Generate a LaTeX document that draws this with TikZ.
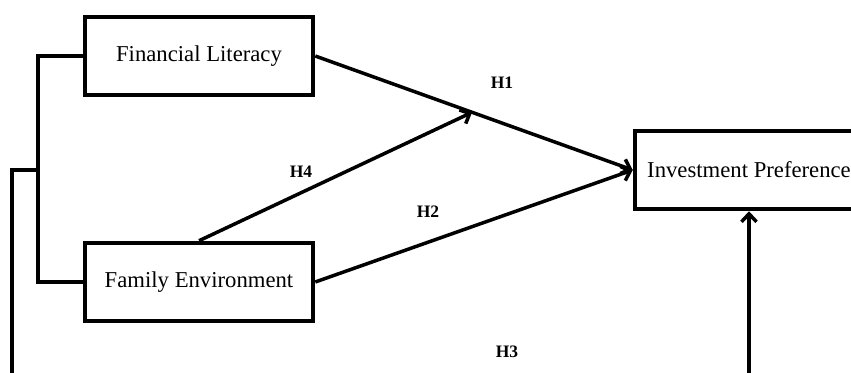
\documentclass[tikz,border=0pt]{standalone}
\usepackage{fontspec}
\setmainfont{Liberation Serif}
\usetikzlibrary{arrows.meta}

\begin{document}
\begin{tikzpicture}[x=1pt, y=-1pt, >={Straight Barb[length=8pt,width=15pt]}]
	\tikzstyle{varbox} = [draw, line width=4.5pt, minimum width=228pt, minimum height=78pt, font=\fontsize{22.7}{27}\selectfont]
	\tikzstyle{hyp} = [font=\fontsize{17.5}{21}\selectfont\bfseries]
	\tikzstyle{path} = [line width=3.5pt]
	\useasboundingbox (0,0) rectangle (851,372);
	\clip (0,0) rectangle (851,372);
	\node[varbox] (Literacy) at (199, 56) {Financial Literacy};
	\node[varbox] (Family) at (199, 282) {Family Environment};
	\node[varbox] (Preference) at (749, 170) {Investment Preference};
	\coordinate (Bracket) at (38, 170);
	\coordinate (Outer) at (12, 170);
	\coordinate (Low) at (12, 400);
	\node[hyp] (H1) at (502, 83) {H1};
	\node[hyp] (H2) at (428, 212) {H2};
	\node[hyp] (H3) at (507, 352) {H3};
	\node[hyp] (H4) at (301, 172) {H4};
	\draw [path, ->] (Literacy.east) -- coordinate[pos=0.494] (Meet) (Preference.west);
	\draw [path, ->] (Family.east) -- (Preference.west);
	\draw [path, ->] (Family.north) -- (Meet);
	\draw [path] (Literacy.west) -| (Bracket) |- (Family.west);
	\draw [path, ->] (Bracket) -- (Outer) -- (Low) -| (Preference.south);
\end{tikzpicture}
\end{document}
